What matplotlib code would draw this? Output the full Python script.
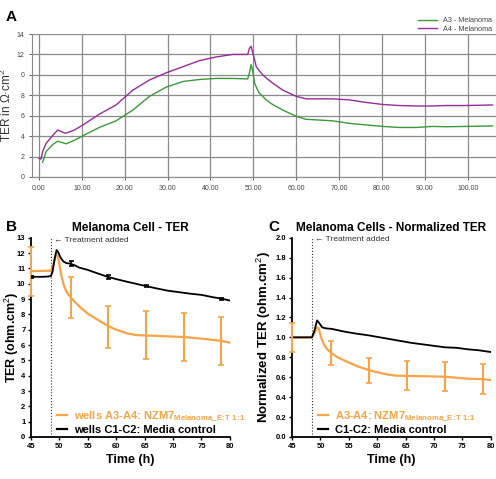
import matplotlib
matplotlib.use("Agg")
import matplotlib.pyplot as plt
from matplotlib.lines import Line2D

plt.rcParams['font.family'] = ['Liberation Sans', 'DejaVu Sans']
plt.rcParams['mathtext.fontset'] = 'custom'
plt.rcParams['mathtext.rm'] = 'Liberation Sans'
plt.rcParams['mathtext.bf'] = 'Liberation Sans:bold'

# ---- panel A data (raw TER traces) ----
a_x = [0.0, 0.5, 0.9, 1.7, 3.3, 4.4, 6.0, 6.4, 8.3, 9.9, 10.3, 14.1, 18.0, 21.9, 25.8, 29.7, 33.6,
       37.5, 41.3, 45.2, 48.7, 49.1, 49.5, 49.9, 50.3, 50.7, 51.4, 52.2, 53.0, 54.5, 56.9, 60.0,
       62.3, 68.5, 72.4, 76.3, 80.2, 84.0, 88.0, 91.8, 95.0, 99.6, 105.8]
a3 = [None, None, 1.45, 2.5, 3.2, 3.5, 3.3, 3.25, 3.6, 3.95, 4.05, 4.85, 5.5, 6.55, 7.9, 8.8, 9.35,
      9.55, 9.65, 9.65, 9.6, 10.2, 11.0, 10.3, 9.2, 8.8, 8.2, 7.9, 7.55, 7.1, 6.55, 5.95,
      5.65, 5.5, 5.25, 5.1, 4.95, 4.85, 4.85, 4.95, 4.92, 4.95, 5.0]
a4 = [1.85, 1.75, 2.5, 3.3, 4.1, 4.6, 4.3, 4.3, 4.6, 5.0, 5.1, 6.15, 7.05, 8.5, 9.5, 10.2, 10.8,
      11.4, 11.75, 12.0, 12.0, 12.6, 12.8, 12.1, 11.5, 10.8, 10.4, 10.0, 9.7, 9.2, 8.5, 7.9,
      7.65, 7.65, 7.55, 7.3, 7.1, 7.0, 6.95, 6.95, 7.0, 7.0, 7.05]
a_yticks = [0, 2, 4, 6, 8, 10, 12, 14]
a_yticklabels = ['0', '2', '4', '6', '8', '0', '12', '14']

# ---- panel B data (TER after treatment) ----
b_black_x = [45, 46, 47, 48, 48.5, 48.8, 49.2, 49.5, 49.8, 50.2, 50.7, 51.2, 52, 52.7, 53.5, 55, 56.5,
             58.5, 60, 62, 64, 65.2, 67, 69, 71, 73, 75, 77, 78.5, 80]
b_black_y = [10.45, 10.45, 10.45, 10.47, 10.5, 10.8, 11.7, 12.2, 12.05, 11.7, 11.45, 11.35, 11.3, 11.2,
             11.05, 10.9, 10.7, 10.45, 10.3, 10.12, 9.95, 9.85, 9.7, 9.55, 9.45, 9.35, 9.27, 9.12, 9.03, 8.9]
b_orange_x = [45, 48.5, 48.9, 49.3, 49.6, 49.9, 50.3, 50.7, 51.2, 52, 53, 54, 55, 56.5, 58.5, 60, 62,
              63.5, 65.2, 67, 70, 72, 74, 76, 78.5, 80]
b_orange_y = [10.82, 10.85, 11.2, 11.8, 11.9, 11.5, 10.6, 10.0, 9.5, 9.1, 8.7, 8.35, 8.05, 7.7, 7.25,
              7.0, 6.75, 6.65, 6.62, 6.6, 6.55, 6.52, 6.45, 6.38, 6.27, 6.15]
b_err_x = [45, 52, 58.5, 65.2, 72, 78.5]
b_err_top = [12.37, 10.46, 8.57, 8.22, 8.09, 7.85]
b_err_bot = [9.22, 7.74, 5.83, 5.09, 4.98, 4.70]
b_blk_err_x = [45, 52, 58.5, 65.2, 78.5]
b_blk_err_y = [10.45, 11.3, 10.45, 9.85, 9.03]
b_blk_err = [0.05, 0.15, 0.15, 0.08, 0.07]

# ---- panel C data (normalized TER) ----
c_black_x = [45, 48.5, 48.9, 49.4, 49.7, 50.3, 51, 52, 54, 56, 58.5, 60, 62, 64, 66, 68, 70, 72, 74,
             76, 78, 80]
c_black_y = [1.0, 1.0, 1.06, 1.17, 1.15, 1.1, 1.09, 1.085, 1.06, 1.04, 1.02, 1.005, 0.985, 0.965,
             0.945, 0.93, 0.915, 0.9, 0.895, 0.88, 0.87, 0.853]
c_orange_x = [45, 48.5, 48.9, 49.4, 49.7, 50.1, 50.6, 51.2, 52, 53, 54.5, 56.5, 58.6, 60, 62, 63.5,
              65.3, 68, 71.9, 74, 76, 78.7, 80]
c_orange_y = [1.0, 1.0, 1.04, 1.1, 1.09, 1.0, 0.93, 0.88, 0.84, 0.8, 0.76, 0.71, 0.67, 0.65, 0.625,
              0.615, 0.613, 0.61, 0.605, 0.595, 0.585, 0.58, 0.572]
c_err_x = [45, 51.8, 58.6, 65.3, 71.9, 78.7]
c_err_top = [1.14, 0.966, 0.795, 0.758, 0.748, 0.73]
c_err_bot = [0.852, 0.718, 0.54, 0.473, 0.463, 0.436]

treatment_t = 48.5
orange = '#f7a348'
green = '#3a9a3a'
purple = '#952d98'
sub_label = '$_{\\mathbf{Melanoma\\_E\\!:\\!T\\ 1\\!:\\!1}}$'

fig = plt.figure(figsize=(4.96, 4.79), dpi=100)

# ---------------- panel A ----------------
axA = fig.add_axes([0.0645, 0.6305, 0.9355, 0.2985])
xa3 = [x for x, y in zip(a_x, a3) if y is not None]
ya3 = [y for y in a3 if y is not None]
axA.plot(xa3, ya3, color=green, lw=1.0, label='A3 - Melanoma')
axA.plot(a_x, a4, color=purple, lw=1.0, label='A4 - Melanoma')
axA.set_xlim(-1.6, 106.6)
axA.set_ylim(0, 14)
axA.set_xticks(range(0, 101, 10))
axA.set_xticklabels(['%.2f' % v for v in range(0, 101, 10)])
axA.set_yticks(a_yticks)
axA.set_yticklabels(a_yticklabels)
axA.grid(True, color='#8a8a8a', lw=0.9)
axA.set_axisbelow(True)
for s in ['top', 'right']:
    axA.spines[s].set_visible(False)
for s in ['left', 'bottom']:
    axA.spines[s].set_color('#8a8a8a')
axA.tick_params(labelsize=5, colors='#444444', length=2, width=0.6)
axA.set_ylabel('TER in Ω·cm$^2$', fontsize=8.5, color='#333333')
axA.yaxis.set_label_coords(-0.039, 0.5)
axA.legend(loc='lower right', bbox_to_anchor=(1.0, 0.98), frameon=False, fontsize=5.2,
           handlelength=2.6, labelspacing=0.15, labelcolor='#444444', borderaxespad=0.2)
fig.text(0.012, 0.965, 'A', fontsize=11, fontweight='bold', va='center')


def style_panel(ax, xlabel, ylabel, ylab_x, ylab_size):
    for s in ['top', 'right']:
        ax.spines[s].set_visible(False)
    for s in ['left', 'bottom']:
        ax.spines[s].set_linewidth(1.3)
    ax.set_xlim(45, 80)
    ax.set_xticks(range(45, 81, 5))
    ax.tick_params(labelsize=5.5, length=2.5, width=1.0, pad=1.5)
    for lab in ax.get_xticklabels() + ax.get_yticklabels():
        lab.set_fontweight('bold')
    ax.set_xlabel(xlabel, fontsize=9, fontweight='bold', labelpad=3)
    ax.set_ylabel(ylabel, fontsize=ylab_size, fontweight='bold')
    ax.yaxis.set_label_coords(ylab_x, 0.5)


def draw_bars(ax, xs, tops, bots, color):
    eb = ax.errorbar(xs, [(t + b) / 2 for t, b in zip(tops, bots)],
                     yerr=[(t - b) / 2 for t, b in zip(tops, bots)],
                     fmt='none', ecolor=color, elinewidth=1.5, capsize=2, capthick=1.2, zorder=5)
    for art in eb.lines[1] + eb.lines[2]:
        art.set_clip_on(False)


legend_prop = {'weight': 'bold', 'size': 8}

# ---------------- panel B ----------------
axB = fig.add_axes([0.0625, 0.0877, 0.401, 0.416])
axB.axvline(treatment_t, color='#333333', lw=0.8, ls=':')
draw_bars(axB, b_err_x, b_err_top, b_err_bot, orange)
axB.errorbar(b_blk_err_x, b_blk_err_y, yerr=b_blk_err, fmt='none', ecolor='black',
             elinewidth=1.2, capsize=1.8, capthick=1.2, zorder=6)
axB.plot(b_orange_x, b_orange_y, color=orange, lw=1.6, zorder=3)
axB.plot(b_black_x, b_black_y, color='black', lw=1.3, zorder=4)
axB.set_ylim(0, 13)
axB.set_yticks(range(0, 14))
style_panel(axB, 'Time (h)', 'TER (ohm.cm$^2$)', -0.05, 9)
axB.set_title('Melanoma Cell - TER', fontsize=8.5, fontweight='bold', pad=5)
axB.text(treatment_t + 0.5, 12.85, '← Treatment added', fontsize=6, color='#333333', va='center')
hB = [Line2D([], [], color=orange, lw=1.6), Line2D([], [], color='black', lw=1.6)]
axB.legend(hB, ['wells A3-A4: NZM7' + sub_label, 'wells C1-C2: Media control'],
           loc='lower left', bbox_to_anchor=(0.08, -0.04), frameon=False, handlelength=0.9,
           handletextpad=0.6, labelspacing=0.15, prop=legend_prop,
           labelcolor=[orange, 'black'])
fig.text(0.012, 0.527, 'B', fontsize=11, fontweight='bold', va='center')

# ---------------- panel C ----------------
axC = fig.add_axes([0.589, 0.0877, 0.400, 0.416])
axC.axvline(treatment_t, color='#333333', lw=0.8, ls=':')
draw_bars(axC, c_err_x, c_err_top, c_err_bot, orange)
axC.plot(c_orange_x, c_orange_y, color=orange, lw=1.6, zorder=3)
axC.plot(c_black_x, c_black_y, color='black', lw=1.3, zorder=4)
axC.set_ylim(0, 2.0)
axC.set_yticks([i / 5 for i in range(11)])
axC.set_yticklabels(['%.1f' % (i / 5) for i in range(11)])
style_panel(axC, 'Time (h)', 'Normalized TER (ohm.cm$^2$)', -0.095, 9.5)
axC.set_title('Melanoma Cells - Normalized TER', fontsize=8.5, fontweight='bold', pad=5)
axC.text(treatment_t + 0.5, 1.98, '← Treatment added', fontsize=6, color='#333333', va='center')
hC = [Line2D([], [], color=orange, lw=1.6), Line2D([], [], color='black', lw=1.6)]
axC.legend(hC, ['A3-A4: NZM7' + sub_label, 'C1-C2: Media control'],
           loc='lower left', bbox_to_anchor=(0.08, -0.04), frameon=False, handlelength=0.9,
           handletextpad=0.6, labelspacing=0.15, prop=legend_prop,
           labelcolor=[orange, 'black'])
fig.text(0.542, 0.527, 'C', fontsize=11, fontweight='bold', va='center')

fig.savefig('out.png', dpi=100)
